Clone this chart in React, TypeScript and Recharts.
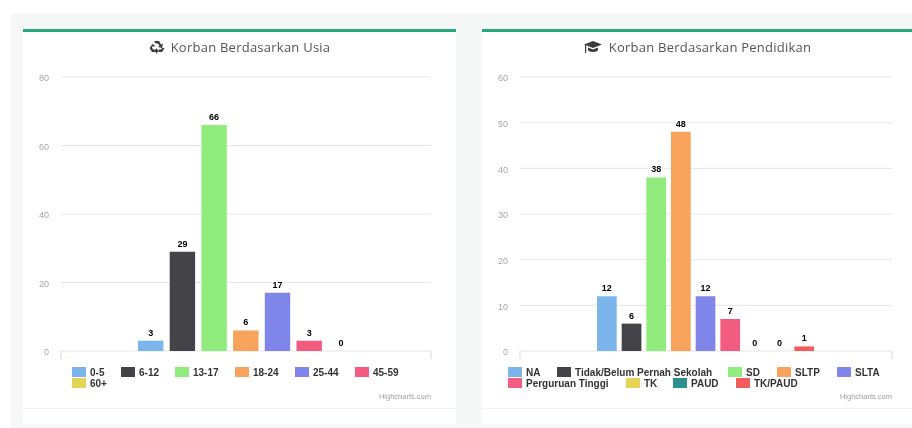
import { Bar, BarChart, CartesianGrid, LabelList, Legend, XAxis, YAxis, usePlotArea } from 'recharts';

const USIA_GROUPS = ['0-5', '6-12', '13-17', '18-24', '25-44', '45-59', '60+'];
const USIA_VALUES = [3, 29, 66, 6, 17, 3, 0];
const USIA_TICKS = [0, 20, 40, 60, 80];

const PENDIDIKAN_GROUPS = [
  'NA',
  'Tidak/Belum Pernah Sekolah',
  'SD',
  'SLTP',
  'SLTA',
  'Perguruan Tinggi',
  'TK',
  'PAUD',
  'TK/PAUD',
];
const PENDIDIKAN_VALUES = [12, 6, 38, 48, 12, 7, 0, 0, 1];
const PENDIDIKAN_TICKS = [0, 10, 20, 30, 40, 50, 60];

const COLORS = ['#7cb5ec', '#434348', '#90ed7d', '#f7a35c', '#8085e9', '#f15c80', '#e4d354', '#2b908f', '#f45b5b'];

// legend item left edges and rows, relative to the card
const USIA_LEGEND = [[49, 0], [98, 0], [152, 0], [212, 0], [272, 0], [332, 0], [49, 1]];
const PENDIDIKAN_LEGEND = [[26, 0], [75, 0], [246, 0], [295, 0], [355, 0], [26, 1], [144, 1], [191, 1], [254, 1]];

const FONT = '"Liberation Sans", Arial, sans-serif';

function AxisEnds() {
  const p = usePlotArea();
  if (!p) return null;
  return (
    <g>
      <line x1={p.x} x2={p.x} y1={p.y + p.height} y2={p.y + p.height + 8} stroke="#ccd6eb" />
      <line x1={p.x + p.width} x2={p.x + p.width} y1={p.y + p.height} y2={p.y + p.height + 8} stroke="#ccd6eb" />
    </g>
  );
}

function legendContent(spots: number[][]) {
  return ({ payload }: any) => (
    <div style={{ position: 'relative', height: 0 }}>
      {(payload || []).map((item: any, i: number) => (
        <div
          key={item.value}
          style={{
            position: 'absolute',
            left: spots[i][0],
            top: 338 + spots[i][1] * 11,
            display: 'flex',
            alignItems: 'center',
            height: 10,
            whiteSpace: 'nowrap',
            fontFamily: FONT,
            fontSize: 10,
            fontWeight: 700,
            color: '#333333',
          }}
        >
          <span style={{ width: 14, height: 10, background: item.color, marginRight: 4 }} />
          {item.value}
        </div>
      ))}
    </div>
  );
}

function RecycleIcon() {
  return (
    <svg width="16" height="14" viewBox="0 0 16 14">
      <path
        d="M5 1 L10 1 L12 4.5 L14 3.5 L13 8 L9 7 L10.5 6 L9 3.5 L6.5 3.5 Z M3.5 4 L6.5 6 L2.8 6.8 L4 9.5 L7 9.5 L7 7.8 L9.5 11 L7 14 L7 12 L3 12 L0.5 8 Z M15.5 8.5 L13 12 L9.5 12 L9.5 9.5 L12 9.5 L13.5 7.5 Z"
        fill="#3d3d3d"
      />
    </svg>
  );
}

function CapIcon() {
  return (
    <svg width="20" height="14" viewBox="0 0 20 14">
      <path d="M10 1 L19 4.5 L10 8 L1 4.5 Z" fill="#3d3d3d" />
      <path d="M5 7.5 L10 9.5 L15 7.5 L15 10.5 Q10 13.5 5 10.5 Z" fill="#3d3d3d" />
      <rect x="2" y="5" width="1.2" height="8" fill="#3d3d3d" />
    </svg>
  );
}

function Panel({
  left,
  width,
  title,
  icon,
  groups,
  values,
  ticks,
  spots,
  plotRight,
  plotLeft,
  barSize,
  barGap,
}: {
  left: number;
  width: number;
  title: string;
  icon: React.ReactNode;
  groups: string[];
  values: number[];
  ticks: number[];
  spots: number[][];
  plotRight: number;
  plotLeft: number;
  barSize: number;
  barGap: number;
}) {
  const row: Record<string, number | string> = { name: title };
  groups.forEach((g, i) => {
    row[g] = values[i];
  });

  return (
    <div style={{ position: 'absolute', left, top: 29, width, height: 395, background: '#ffffff' }}>
      <div style={{ height: 3, background: '#26a97a' }} />
      <div
        style={{
          position: 'absolute',
          top: 9,
          left: 0,
          width: '100%',
          display: 'flex',
          justifyContent: 'center',
          alignItems: 'center',
          gap: 6,
          fontFamily: '"Open Sans", sans-serif',
          fontSize: 13,
          letterSpacing: 0.24,
          color: '#555555',
        }}
      >
        {icon}
        <span>{title}</span>
      </div>
      <div style={{ position: 'absolute', left: 0, right: 0, top: 379, height: 1, background: '#f0f0f0' }} />
      <div
        style={{
          position: 'absolute',
          right: width - plotRight,
          top: 363,
          fontFamily: FONT,
          fontSize: 7.5,
          color: '#a0a0a0',
        }}
      >
        Highcharts.com
      </div>
      <div style={{ position: 'absolute', left: 0, top: 0 }}>
        <BarChart
          width={width}
          height={380}
          data={[row]}
          barSize={barSize}
          barGap={barGap}
          margin={{ top: 48, right: width - plotRight, bottom: 58, left: 0 }}
        >
          <CartesianGrid horizontal vertical={false} stroke="#e6e6e6" />
          <XAxis dataKey="name" tick={false} tickLine={false} height={0} axisLine={{ stroke: '#ccd6eb' }} />
          <YAxis
            width={plotLeft}
            type="number"
            domain={[ticks[0], ticks[ticks.length - 1]]}
            ticks={ticks}
            interval={0}
            axisLine={false}
            tickLine={false}
            tickSize={0}
            tickMargin={12}
            dy={1}
            tick={{ fontSize: 9, fill: '#a6a6a6', fontFamily: FONT }}
          />
          <Legend
            itemSorter={null}
            content={legendContent(spots)}
            wrapperStyle={{ position: 'absolute', left: 0, top: 0, width, height: 0 }}
          />
          {groups.map((g, i) => (
            <Bar key={g} dataKey={g} name={g} fill={COLORS[i]} minPointSize={0.01} isAnimationActive={false}>
              <LabelList
                dataKey={g}
                position="top"
                offset={5}
                style={{
                  fontFamily: FONT,
                  fontSize: 9,
                  fontWeight: 700,
                  fill: '#000000',
                  stroke: '#ffffff',
                  strokeWidth: 2,
                  paintOrder: 'stroke',
                }}
              />
            </Bar>
          ))}
          <AxisEnds />
        </BarChart>
      </div>
    </div>
  );
}

export default function App() {
  return (
    <div
      style={{
        position: 'fixed',
        left: 0,
        top: 0,
        width: 912,
        height: 428,
        background: '#ffffff',
        overflow: 'hidden',
        filter: 'blur(0.45px)',
      }}
    >
      <div style={{ position: 'absolute', left: 11, top: 13, width: 901, height: 415, background: '#f6f7f7' }} />
      <Panel
        left={23}
        width={433}
        title="Korban Berdasarkan Usia"
        icon={<RecycleIcon />}
        groups={USIA_GROUPS}
        values={USIA_VALUES}
        ticks={USIA_TICKS}
        spots={USIA_LEGEND}
        plotLeft={38}
        plotRight={408}
        barSize={25.4}
        barGap={6.3}
      />
      <Panel
        left={482}
        width={430}
        title="Korban Berdasarkan Pendidikan"
        icon={<CapIcon />}
        groups={PENDIDIKAN_GROUPS}
        values={PENDIDIKAN_VALUES}
        ticks={PENDIDIKAN_TICKS}
        spots={PENDIDIKAN_LEGEND}
        plotLeft={38}
        plotRight={410}
        barSize={19.7}
        barGap={4.97}
      />
    </div>
  );
}
